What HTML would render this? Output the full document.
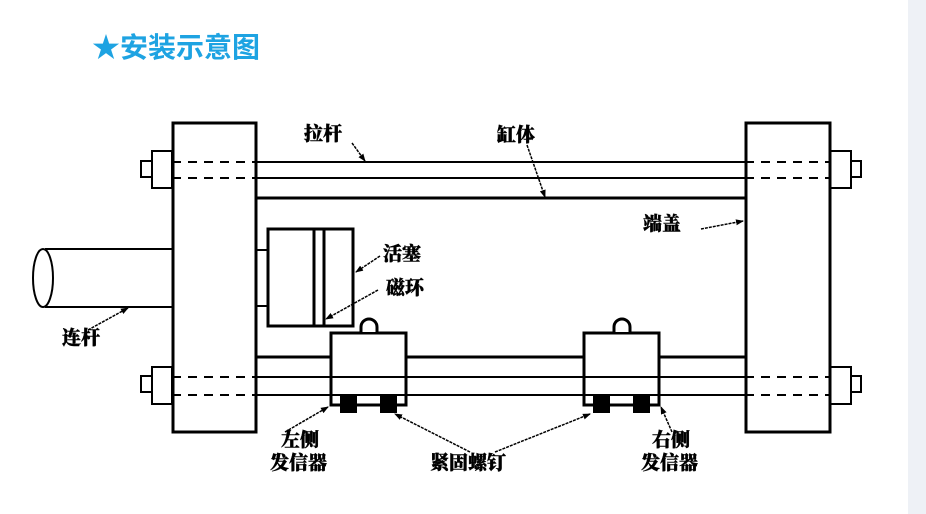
<!DOCTYPE html>
<html><head><meta charset="utf-8"><style>
body{margin:0;background:#fff;width:926px;height:514px;overflow:hidden;position:relative}
.t{position:absolute;font-family:"Liberation Serif","Noto Serif CJK SC",serif;font-weight:900;font-size:19px;color:#000;line-height:1;white-space:nowrap;-webkit-text-stroke:0.4px #000}
</style></head><body>
<div style="position:absolute;left:908px;top:0;width:18px;height:514px;background:#eef1f6"></div>
<div style="position:absolute;left:92px;top:34px;font-family:'Liberation Sans','Noto Sans CJK SC',sans-serif;font-weight:bold;font-size:28px;color:#1ea3e2;line-height:1;white-space:nowrap">★安装示意图</div>
<svg width="926" height="514" style="position:absolute;left:0;top:0" fill="none" stroke="#000">
<defs><marker id="a" markerWidth="8" markerHeight="8" refX="7" refY="4" orient="auto" markerUnits="userSpaceOnUse"><path d="M0,1 L8,4 L0,7z" fill="#000" stroke="none"/></marker></defs>
<g stroke-width="2">
<line x1="256" y1="162" x2="745" y2="162"/><line x1="256" y1="178" x2="745" y2="178"/>
<line x1="256" y1="377" x2="745" y2="377"/><line x1="256" y1="395" x2="745" y2="395"/>
<g stroke-dasharray="9,7">
<line x1="172" y1="162" x2="256" y2="162"/><line x1="172" y1="178" x2="256" y2="178"/>
<line x1="172" y1="377" x2="256" y2="377"/><line x1="172" y1="395" x2="256" y2="395"/>
<line x1="745" y1="162" x2="830" y2="162"/><line x1="745" y1="178" x2="830" y2="178"/>
<line x1="745" y1="377" x2="830" y2="377"/><line x1="745" y1="395" x2="830" y2="395"/>
</g>
</g>
<g stroke-width="3">
<line x1="256" y1="198" x2="745" y2="198"/><line x1="256" y1="357" x2="745" y2="357"/>
<rect x="173" y="123" width="83" height="309"/>
<rect x="746" y="123" width="84" height="309"/>
</g>
<g stroke-width="2">
<rect x="152" y="151" width="20" height="37"/><rect x="141" y="161" width="11" height="16"/>
<rect x="152" y="367" width="20" height="37"/><rect x="141" y="376" width="11" height="16"/>
<rect x="830" y="151" width="21" height="37"/><rect x="851" y="161" width="10" height="16"/>
<rect x="830" y="367" width="21" height="37"/><rect x="851" y="376" width="10" height="16"/>
<line x1="45" y1="249" x2="172" y2="249"/><line x1="45" y1="307" x2="172" y2="307"/>
<ellipse cx="43" cy="278" rx="10" ry="29"/>
<line x1="256" y1="250" x2="267" y2="250"/><line x1="256" y1="306" x2="267" y2="306"/>
</g>
<g stroke-width="3">
<rect x="268" y="229" width="85" height="97"/>
<line x1="314" y1="229" x2="314" y2="326"/><line x1="324" y1="229" x2="324" y2="326"/>
<rect x="331" y="333" width="75" height="72" fill="#fff"/>
<rect x="584" y="333" width="75" height="72" fill="#fff"/>
<path d="M361,332 v-5 a8,8 0 0 1 16,0 v5" fill="#fff"/>
<path d="M614,332 v-5 a8,8 0 0 1 16,0 v5" fill="#fff"/>
</g>
<g stroke-width="2">
<line x1="331" y1="377" x2="406" y2="377"/><line x1="331" y1="395" x2="406" y2="395"/>
<line x1="584" y1="377" x2="659" y2="377"/><line x1="584" y1="395" x2="659" y2="395"/>
</g>
<g fill="#000" stroke="none">
<rect x="340" y="396" width="17" height="17"/><rect x="380" y="396" width="17" height="17"/>
<rect x="593" y="396" width="17" height="17"/><rect x="633" y="396" width="17" height="17"/>
</g>
<g stroke-width="1.5" stroke-dasharray="3,1" marker-end="url(#a)">
<line x1="352" y1="143" x2="365" y2="161"/>
<line x1="527" y1="145" x2="545" y2="197"/>
<line x1="701" y1="229" x2="743" y2="221"/>
<line x1="380" y1="256" x2="356" y2="272"/>
<line x1="378" y1="290" x2="326" y2="319"/>
<line x1="88" y1="330" x2="128" y2="308"/>
<line x1="285" y1="432" x2="328" y2="407"/>
<line x1="470" y1="452" x2="395" y2="414"/>
<line x1="495" y1="452" x2="590" y2="414"/>
<line x1="672" y1="432" x2="661" y2="407"/>
</g>
</svg>
<div class="t" style="left:304px;top:125px">拉杆</div>
<div class="t" style="left:497px;top:126px">缸体</div>
<div class="t" style="left:643px;top:215px">端盖</div>
<div class="t" style="left:383px;top:245px">活塞</div>
<div class="t" style="left:386px;top:279px">磁环</div>
<div class="t" style="left:62px;top:329px">连杆</div>
<div class="t" style="left:281px;top:431px">左侧</div>
<div class="t" style="left:270px;top:454px">发信器</div>
<div class="t" style="left:430px;top:454px">紧固螺钉</div>
<div class="t" style="left:652px;top:431px">右侧</div>
<div class="t" style="left:641px;top:454px">发信器</div>
</body></html>
